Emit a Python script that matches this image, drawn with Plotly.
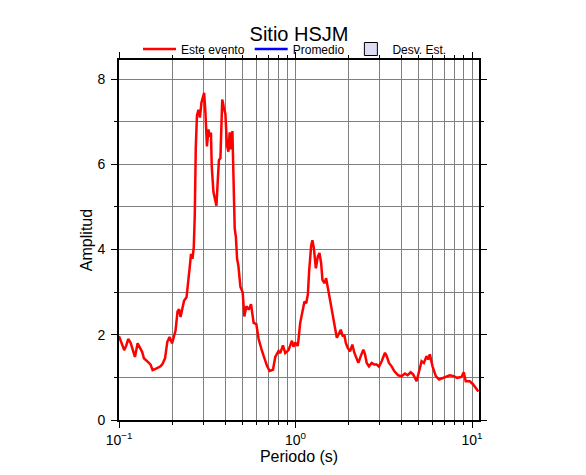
import plotly.graph_objects as go

# Data
periodo = [0.100, 0.1036, 0.107, 0.110, 0.1127, 0.1164, 0.1195, 0.1231, 0.1275, 0.1326,
           0.1352, 0.1384, 0.1434, 0.1477, 0.151, 0.155, 0.1612, 0.1665, 0.172, 0.1766,
           0.1824, 0.1877, 0.1934, 0.1998, 0.2045, 0.2091, 0.2146, 0.2189, 0.2232, 0.2291,
           0.2336, 0.2413, 0.246, 0.2518, 0.2558, 0.2608, 0.2652, 0.2687, 0.2723, 0.2765,
           0.282, 0.2875, 0.2932, 0.299, 0.3037, 0.3089, 0.315, 0.3212, 0.3276, 0.3318,
           0.3353, 0.3428, 0.3496, 0.3565, 0.3625, 0.3683, 0.3755, 0.3804, 0.3844, 0.392,
           0.4008, 0.4087, 0.4167, 0.4238, 0.4305, 0.439, 0.4465, 0.4524, 0.4594, 0.4667,
           0.4747, 0.4872, 0.502, 0.5132, 0.5267, 0.5427, 0.5598, 0.5672, 0.5791, 0.5998,
           0.618, 0.6459, 0.6656, 0.6893, 0.7131, 0.7453, 0.768, 0.8017, 0.8196, 0.8488,
           0.8747, 0.9131, 0.9543, 0.9743, 0.9961, 1.031, 1.063, 1.091, 1.124, 1.150,
           1.175, 1.195, 1.227, 1.247, 1.271, 1.304, 1.339, 1.367, 1.397, 1.421,
           1.458, 1.491, 1.525, 1.570, 1.618, 1.661, 1.714, 1.750, 1.805, 1.853,
           1.892, 1.927, 1.977, 2.037, 2.099, 2.154, 2.223, 2.270, 2.342, 2.423,
           2.477, 2.532, 2.609, 2.702, 2.795, 2.884, 2.972, 3.078, 3.213, 3.285,
           3.384, 3.505, 3.625, 3.731, 3.819, 3.991, 4.167, 4.315, 4.487, 4.642,
           4.852, 5.019, 5.178, 5.335, 5.526, 5.642, 5.768, 5.975, 6.237, 6.511,
           6.859, 7.169, 7.482, 7.881, 8.227, 8.711, 8.976, 9.213, 9.705, 10.13,
           10.59, 10.87]

amplitud = [1.97, 1.80, 1.64, 1.75, 1.90, 1.81, 1.65, 1.48, 1.80, 1.68,
            1.60, 1.45, 1.40, 1.34, 1.30, 1.17, 1.20, 1.24, 1.26, 1.32,
            1.45, 1.83, 1.95, 1.80, 1.98, 2.10, 2.55, 2.60, 2.42, 2.68,
            2.80, 2.88, 3.30, 3.60, 3.90, 3.78, 4.05, 4.80, 6.40, 7.15,
            7.28, 7.10, 7.45, 7.55, 7.68, 7.20, 6.42, 6.82, 6.65, 6.75,
            5.95, 5.35, 5.20, 5.03, 5.60, 6.10, 6.15, 7.40, 7.52, 7.35,
            7.18, 6.45, 6.30, 6.75, 6.35, 6.78, 5.60, 4.50, 4.30, 3.78,
            3.62, 3.13, 3.00, 2.43, 2.67, 2.59, 2.72, 2.50, 2.28, 2.25,
            1.90, 1.62, 1.46, 1.27, 1.15, 1.18, 1.48, 1.62, 1.57, 1.75,
            1.57, 1.64, 1.86, 1.72, 1.82, 1.74, 2.28, 2.50, 2.78, 2.74,
            2.95, 3.50, 4.10, 4.22, 4.03, 3.56, 3.84, 3.92, 3.68, 3.29,
            3.21, 3.33, 3.10, 2.82, 2.51, 2.24, 1.93, 2.00, 2.12, 1.96,
            2.00, 1.81, 1.69, 1.61, 1.77, 1.58, 1.42, 1.34, 1.50, 1.65,
            1.54, 1.34, 1.26, 1.34, 1.30, 1.30, 1.25, 1.38, 1.58, 1.50,
            1.34, 1.26, 1.15, 1.08, 1.05, 1.03, 1.09, 1.05, 1.12, 1.07,
            0.91, 1.15, 1.38, 1.34, 1.50, 1.42, 1.54, 1.26, 1.03, 0.95,
            0.99, 1.03, 1.05, 1.03, 0.99, 1.01, 1.12, 0.91, 0.91, 0.84,
            0.73, 0.67]

x_major = [0.1, 1, 10]
x_major_text = ["10<sup>\u22121</sup>", "10<sup>0</sup>", "10<sup>1</sup>"]
x_minor = [0.2, 0.3, 0.4, 0.5, 0.6, 0.7, 0.8, 0.9, 2, 3, 4, 5, 6, 7, 8, 9]
y_major = [0, 2, 4, 6, 8]

FONT = "Liberation Sans, Arial, Helvetica, sans-serif"
GRID = "#7f7f7f"
W, H = 586, 475

fig = go.Figure()
fig.add_trace(go.Scatter(x=periodo, y=amplitud, mode="lines", name="Este evento",
                         line=dict(color="#ff0000", width=2.5)))
fig.add_trace(go.Scatter(x=[None], y=[None], mode="lines", name="Promedio",
                         line=dict(color="#0000ff", width=2.5)))
fig.add_trace(go.Scatter(x=[None], y=[None], mode="markers", name="Desv. Est.",
                         marker=dict(symbol="square", size=13, color="#dcdcf5",
                                     line=dict(color="black", width=1))))

# the page body adds an 8px offset; layout compensates for it
fig.update_layout(
    width=W, height=H,
    margin=dict(l=111, r=115, t=52, b=63, autoexpand=False),
    paper_bgcolor="white", plot_bgcolor="white",
    font=dict(family=FONT, color="black", size=14),
    title=dict(text="Sitio HSJM", x=291 / W, xanchor="center",
               y=1 - 26 / H, yanchor="middle", yref="container",
               font=dict(size=20, family=FONT, color="black")),
    legend=dict(orientation="h", xref="container", yref="container",
                x=130 / W, xanchor="left", y=1 - 41 / H, yanchor="middle",
                font=dict(size=12, family=FONT), bgcolor="rgba(0,0,0,0)",
                itemwidth=33, tracegroupgap=0),
    showlegend=True,
)

fig.update_xaxes(
    type="log", range=[-1, 1.0396],
    tickmode="array", tickvals=x_major, ticktext=x_major_text,
    ticks="outside", ticklen=6, tickwidth=1, tickcolor="black",
    showline=True, linewidth=2, linecolor="black", mirror="ticks",
    showgrid=True, gridcolor=GRID, gridwidth=1,
    minor=dict(tickmode="array", tickvals=x_minor, ticks="outside", ticklen=3,
               tickcolor="black", showgrid=True, gridcolor=GRID, gridwidth=1),
    title=dict(text="Periodo (s)", font=dict(size=16, family=FONT), standoff=3),
    tickfont=dict(size=14, family=FONT),
    zeroline=False, automargin=False,
)
fig.update_yaxes(
    range=[0, 8.45],
    tickmode="array", tickvals=y_major,
    ticks="outside", ticklen=6, tickwidth=1, tickcolor="black",
    showline=True, linewidth=2, linecolor="black", mirror="ticks",
    showgrid=True, gridcolor=GRID, gridwidth=1,
    minor=dict(dtick=1, ticks="outside", ticklen=3, tickcolor="black",
               showgrid=True, gridcolor=GRID, gridwidth=1),
    title=dict(text="Amplitud", font=dict(size=16, family=FONT), standoff=1),
    tickfont=dict(size=14, family=FONT),
    ticklabelstandoff=3,
    zeroline=False, automargin=False,
)

fig.write_html("out.html")
